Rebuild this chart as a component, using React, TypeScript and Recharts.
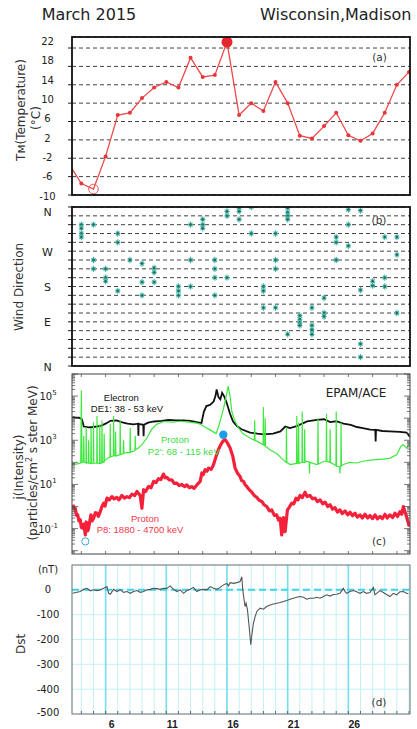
import React from "react";
import {
  ComposedChart,
  Line,
  Scatter,
  XAxis,
  YAxis,
  CartesianGrid,
  ReferenceLine,
  ReferenceDot,
} from "recharts";

// (a) daily temperature, Madison (°C)
const tempDays = [3, 4, 5, 6, 7, 8, 9, 10, 11, 12, 13, 14, 15, 16, 17, 18, 19, 20, 21, 22, 23, 24, 25, 26, 27, 28, 29, 30, 31];
const tempValues = [-3.3, -7.5, -8.7, -1.6, 7.4, 7.9, 11.1, 13.4, 14.6, 13.4, 19.9, 15.7, 16.1, 23.3, 7.4, 10.0, 8.3, 14.6, 10.0, 2.9, 2.3, 5.0, 7.9, 3.0, 1.8, 3.4, 7.9, 14.0, 16.8];
const tempTicks = [-10, -6, -2, 2, 6, 10, 14, 18, 22];

// (b) wind direction readings per day (degrees, 0/360 = N)
const windDays = [4, 5, 6, 7, 8, 9, 10, 12, 13, 14, 15, 16, 17, 18, 19, 20, 21, 22, 23, 24, 25, 26, 27, 28, 29, 30];
const windDegrees = [
  [320, 312, 300, 292],
  [320, 240, 220],
  [220, 200, 192],
  [300, 280, 170],
  [240],
  [232, 190, 160],
  [222, 212, 190],
  [180, 170, 160],
  [320, 240, 180],
  [332, 320, 312],
  [240, 220, 200, 160],
  [350, 340, 200],
  [358, 350, 332],
  [360, 300],
  [180, 170, 132],
  [300, 240, 220, 132],
  [358, 348, 340, 332, 72],
  [114, 106, 98, 92],
  [132, 92, 82, 72],
  [154, 120, 112],
  [292, 280, 240],
  [354, 320, 272],
  [352, 172, 50, 20],
  [192, 182],
  [292, 200, 180],
  [292, 252, 120],
];
const windTicks = [0, 20, 40, 60, 80, 100, 120, 140, 160, 180, 200, 220, 240, 260, 280, 300, 320, 340, 360];
const compassTicks = [360, 260, 180, 100, 0];
const compassNames = ["N", "W", "S", "E", "N"];

// (c) EPAM/ACE intensities as [day, log10 j]
const electronTrace = [
  [3.25, 4.05], [3.5, 4.03], [3.8, 4.02], [4.05, 3.95], [4.2, 3.62], [4.6, 3.58], [5.0, 3.6], [5.6, 3.65],
  [6.0, 3.75], [6.4, 3.88], [6.9, 3.9], [7.3, 3.82], [7.8, 3.75], [8.3, 3.72], [8.68, 3.75], [8.7, 3.2],
  [8.72, 3.74], [9.1, 3.7], [9.13, 3.18], [9.16, 3.7], [9.5, 3.8], [10.0, 3.85], [10.6, 3.88], [11.2, 3.92],
  [11.8, 3.9], [12.4, 3.9], [13.0, 3.88], [13.5, 3.82], [13.9, 3.78], [14.1, 4.3], [14.3, 4.55], [14.6, 4.6],
  [14.9, 4.75], [15.05, 5.0], [15.15, 5.3], [15.3, 4.95], [15.45, 4.85], [15.6, 5.15], [15.8, 4.95], [16.0, 4.65],
  [16.25, 4.2], [16.5, 3.85], [16.8, 3.65], [17.2, 3.5], [17.9, 3.35], [18.5, 3.3], [19.0, 3.27], [19.8, 3.3],
  [20.4, 3.4], [20.8, 3.62], [21.2, 3.55], [21.8, 3.65], [22.6, 3.85], [23.4, 3.92], [24.0, 3.95], [24.5, 3.82],
  [25.0, 3.86], [25.6, 3.75], [26.2, 3.7], [26.7, 3.6], [27.2, 3.55], [27.8, 3.48], [28.22, 3.47], [28.25, 2.95],
  [28.28, 3.47], [28.8, 3.42], [29.4, 3.4], [30.25, 3.38], [30.8, 3.35], [31.08, 3.15],
];

const p2Trace = [
  [3.25, 1.95], [3.6, 1.92], [3.95, 1.97], [4.0, 5.25], [4.05, 2.0], [4.17, 2.02], [4.2, 3.2], [4.23, 2.0],
  [4.38, 1.98], [4.4, 3.6], [4.43, 1.96], [4.58, 2.0], [4.6, 3.0], [4.63, 1.95], [4.78, 1.95], [4.8, 3.55],
  [4.83, 1.95], [4.98, 1.97], [5.0, 3.8], [5.03, 1.97], [5.27, 1.96], [5.29, 4.1], [5.32, 1.96], [5.5, 1.95],
  [5.52, 3.7], [5.55, 1.95], [5.68, 1.97], [5.7, 3.9], [5.73, 2.0], [5.86, 2.0], [5.88, 3.3], [5.91, 2.05],
  [6.2, 2.2], [6.36, 2.25], [6.38, 3.75], [6.41, 2.25], [6.64, 2.3], [6.66, 4.1], [6.69, 2.3], [6.8, 2.3],
  [6.82, 3.4], [6.85, 2.28], [7.18, 2.35], [7.2, 3.9], [7.23, 2.35], [7.45, 2.4], [7.48, 3.0], [7.51, 2.42],
  [8.0, 2.45], [8.03, 3.55], [8.06, 2.45], [8.3, 2.5], [8.42, 2.55], [8.44, 3.2], [8.47, 2.57], [8.7, 2.65],
  [9.0, 2.8], [9.4, 3.1], [9.8, 3.5], [10.2, 3.72], [10.8, 3.85], [11.5, 3.82], [12.2, 3.86], [12.9, 3.82],
  [13.5, 3.78], [13.9, 3.7], [14.1, 3.62], [14.6, 3.47], [15.1, 3.3], [15.3, 3.6], [15.5, 4.0], [15.7, 4.4],
  [15.9, 4.9], [16.1, 5.45], [16.25, 5.0], [16.4, 4.3], [16.6, 3.95], [16.9, 3.6], [17.3, 3.3], [17.9, 3.1],
  [18.25, 3.0], [18.28, 3.9], [18.31, 3.0], [18.5, 2.95], [18.98, 2.8], [19.0, 4.5], [19.03, 2.8], [19.13, 2.75],
  [19.15, 4.0], [19.18, 2.72], [19.6, 2.55], [20.1, 2.4], [20.65, 2.1], [20.88, 2.0], [20.9, 3.6], [20.93, 2.0],
  [21.2, 1.9], [21.73, 1.95], [21.75, 4.1], [21.78, 1.95], [21.88, 1.95], [21.9, 3.8], [21.93, 1.95], [22.18, 2.0],
  [22.2, 4.3], [22.23, 2.0], [22.38, 2.0], [22.4, 3.5], [22.43, 2.0], [22.6, 2.05], [22.78, 2.0], [22.8, 1.5],
  [22.83, 2.0], [23.4, 1.9], [23.48, 1.92], [23.5, 4.0], [23.53, 1.92], [24.0, 2.05], [24.18, 2.05], [24.2, 4.2],
  [24.23, 2.05], [24.48, 2.0], [24.5, 3.5], [24.53, 2.0], [24.98, 1.85], [25.0, 4.3], [25.03, 1.82], [25.28, 1.8],
  [25.3, 1.5], [25.33, 1.8], [25.38, 1.82], [25.4, 3.8], [25.43, 1.85], [25.6, 1.9], [26.1, 2.0], [26.7, 1.97],
  [27.2, 2.05], [27.8, 2.1], [28.3, 2.12], [28.9, 2.15], [29.4, 2.18], [30.0, 2.35], [30.3, 2.7], [30.5, 2.8],
  [30.8, 2.65], [31.08, 2.9],
];

const p8Trace = [
  [3.31, 0.08], [3.4, -0.1], [3.5, -0.08], [3.6, -0.4], [3.7, -0.38], [3.8, -0.65], [3.91, -0.6], [4.0, -0.95],
  [4.13, -0.98], [4.2, -0.8], [4.33, -1.29], [4.4, -0.7], [4.46, -0.76], [4.53, -1.1], [4.6, -0.98], [4.7, -0.65],
  [4.79, -0.38], [4.9, -0.65], [5.01, -0.53], [5.15, -0.28], [5.29, -0.3], [5.4, -0.45], [5.56, -0.23], [5.7, 0.0],
  [5.84, 0.15], [5.95, 0.02], [6.11, 0.38], [6.3, 0.3], [6.52, 0.45], [6.7, 0.35], [6.93, 0.41], [7.1, 0.3],
  [7.34, 0.5], [7.55, 0.38], [7.76, 0.45], [7.95, 0.4], [8.17, 0.56], [8.4, 0.5], [8.58, 0.68], [8.85, 0.5],
  [8.99, -0.08], [9.13, 0.76], [9.3, 0.68], [9.54, 0.91], [9.75, 0.85], [9.95, 1.14], [10.15, 1.08], [10.36, 1.26],
  [10.55, 1.22], [10.77, 1.47], [10.9, 1.3], [11.05, 1.32], [11.25, 1.2], [11.46, 1.21], [11.65, 1.05], [11.87, 1.06],
  [12.05, 0.95], [12.28, 1.0], [12.5, 0.9], [12.69, 0.98], [12.9, 0.85], [13.1, 0.9], [13.3, 0.82], [13.52, 0.98],
  [13.79, 1.14], [13.93, 1.52], [14.05, 1.45], [14.2, 1.67], [14.35, 1.6], [14.48, 1.74], [14.7, 1.68], [14.89, 1.89],
  [15.1, 2.27], [15.3, 2.58], [15.49, 2.8], [15.66, 2.95], [15.85, 3.03], [16.04, 2.88], [16.26, 2.65], [16.48, 2.27],
  [16.67, 1.74], [16.86, 1.52], [17.08, 1.36], [17.2, 1.18], [17.36, 1.14], [17.5, 0.98], [17.63, 0.91], [17.85, 0.75],
  [18.04, 0.65], [18.25, 0.5], [18.46, 0.41], [18.65, 0.28], [18.87, 0.23], [19.05, 0.08], [19.28, 0.0], [19.5, -0.2],
  [19.69, -0.15], [19.9, -0.4], [20.1, -0.38], [20.25, -0.62], [20.38, -0.53], [20.51, -1.29], [20.65, -0.5], [20.79, -1.14],
  [20.98, -0.15], [21.15, -0.02], [21.34, 0.15], [21.5, 0.12], [21.69, 0.38], [21.85, 0.3], [22.02, 0.5], [22.2, 0.4],
  [22.43, 0.65], [22.6, 0.45], [22.84, 0.5], [23.05, 0.35], [23.26, 0.38], [23.45, 0.22], [23.67, 0.3], [23.9, 0.12],
  [24.08, 0.2], [24.3, 0.0], [24.49, 0.08], [24.7, -0.12], [24.9, -0.05], [25.1, -0.25], [25.31, -0.15], [25.5, -0.32],
  [25.73, -0.2], [25.95, -0.38], [26.14, -0.26], [26.35, -0.42], [26.55, -0.3], [26.75, -0.48], [26.96, -0.38], [27.15, -0.52],
  [27.37, -0.35], [27.6, -0.52], [27.78, -0.41], [28.0, -0.55], [28.2, -0.38], [28.4, -0.56], [28.61, -0.45], [28.8, -0.55],
  [29.02, -0.35], [29.2, -0.52], [29.43, -0.38], [29.65, -0.5], [29.84, -0.3], [30.05, -0.45], [30.25, -0.23], [30.4, -0.35],
  [30.53, 0.0], [30.75, -0.38], [31.02, -0.91],
];

// highlighted points on the proton curves
const markDays = [15.7, 4.33];
const markLogs = [3.25, -1.58];
const fluxLabelExps = [-1, 1, 3, 5];

// (d) Dst index (nT)
const dstDays = [3.28, 3.64, 3.91, 4.19, 4.46, 4.74, 5.01, 5.29, 5.56, 5.84, 6.11, 6.25, 6.38, 6.66, 6.93, 7.21, 7.48, 7.76, 8.03, 8.3, 8.58, 8.85, 9.13, 9.4, 9.68, 9.95, 10.22, 10.5, 10.77, 11.05, 11.32, 11.6, 11.87, 12.15, 12.42, 12.69, 12.97, 13.24, 13.52, 13.79, 14.07, 14.34, 14.61, 14.89, 15.16, 15.44, 15.71, 15.99, 16.12, 16.26, 16.54, 16.81, 17.08, 17.22, 17.3, 17.41, 17.49, 17.57, 17.69, 17.77, 17.85, 17.96, 18.07, 18.18, 18.32, 18.46, 18.59, 18.73, 19.0, 19.28, 19.55, 19.83, 20.1, 20.38, 20.65, 20.92, 21.2, 21.47, 21.75, 22.02, 22.3, 22.57, 22.84, 23.12, 23.39, 23.67, 23.94, 24.22, 24.49, 24.77, 25.04, 25.31, 25.59, 25.73, 25.86, 26.14, 26.41, 26.69, 26.96, 27.23, 27.51, 27.78, 28.06, 28.19, 28.33, 28.61, 28.88, 29.15, 29.43, 29.7, 29.98, 30.25, 30.53, 30.8, 30.94];
const dstValues = [-14, -10, -7, 2, 6, -4, 0, -3, 0, 6, 13, -14, -18, 2, -7, 0, -10, -7, -14, -7, -3, -10, -7, 0, 2, 6, 5, 2, 6, 6, 16, 2, -7, 0, -14, -3, 2, 10, -7, 0, 2, 0, 13, 6, 2, 10, 20, 26, 16, 29, 26, 29, 33, 53, 0, -40, -67, -54, -81, -121, -161, -221, -174, -134, -108, -87, -81, -74, -78, -67, -61, -57, -54, -51, -47, -43, -38, -34, -30, -27, -30, -38, -34, -34, -30, -34, -27, -20, -25, -19, -18, -14, 6, -7, -14, -7, -3, -8, -14, -7, -14, -11, 10, -20, -14, -3, -11, -19, -27, -14, -20, -8, -7, -14, -16];
const dstTicks = [-500, -400, -300, -200, -100, 0, 100];

const dayLabels = [6, 11, 16, 21, 26];
const allDays = [4, 5, 6, 7, 8, 9, 10, 11, 12, 13, 14, 15, 16, 17, 18, 19, 20, 21, 22, 23, 24, 25, 26, 27, 28, 29, 30, 31];
const evenDays = [4, 6, 8, 10, 12, 14, 16, 18, 20, 22, 24, 26, 28, 30];

// ---- layout ----
const W = 417;
const LEFT = 72;
const RIGHT = 410;
const DAYS: [number, number] = [3.23, 31.08];
const FLUX_MIN = Math.pow(10, -2.15);
const SANS = "'DejaVu Sans', Verdana, sans-serif";
const ARIAL = "'Liberation Sans', Arial, sans-serif";

const tempRows = tempDays.map((day, i) => ({ day, t: tempValues[i] }));
const tMax = Math.max(...tempValues);
const tMin = Math.min(...tempValues);
const windRows = windDays.flatMap((day, i) => windDegrees[i].map((deg) => ({ day, deg })));
const logRows = (trace: number[][]) => trace.map(([day, lg]) => ({ day, v: Math.pow(10, lg) }));
const electronRows = logRows(electronTrace);
const p2Rows = logRows(p2Trace);
const p8Rows = logRows(p8Trace);
const dstRows = dstDays.map((day, i) => ({ day, dst: dstValues[i] }));

// log ticks: decades plus 2..9 minors
const fluxTicks: number[] = [];
for (let d = -3; d <= 6; d++) {
  for (let m = 1; m <= 9; m++) {
    const v = m * Math.pow(10, d);
    if (v >= FLUX_MIN && v <= 1e6 * 1.0001) fluxTicks.push(v);
  }
}

const TempDot = (p: any) => {
  const { cx, cy, payload } = p;
  if (cx == null || cy == null) return null;
  if (payload.t === tMax) return <circle cx={cx} cy={cy} r={5.5} fill="#e5262c" />;
  if (payload.t === tMin) return <circle cx={cx} cy={cy} r={4.8} fill="none" stroke="#f05a5c" strokeWidth={1} />;
  return <circle cx={cx} cy={cy} r={2} fill="#e8353a" />;
};

const TempTick = ({ x, y, payload }: any) => {
  const v = payload.value;
  return (
    <g>
      <line x1={x - 4} x2={x} y1={y} y2={y} stroke="#222" />
      <text x={x - 24.5} y={y - 6.6 + 0.245 * (22 - v)} textAnchor="middle" dominantBaseline="central" fontSize={10} fill="#222" fontFamily={SANS}>
        {v}
      </text>
    </g>
  );
};

const WindTick = ({ x, y, payload }: any) => {
  const v = payload.value;
  const idx = compassTicks.indexOf(v);
  return (
    <g>
      <line x1={x - 4} x2={x} y1={y} y2={y} stroke="#222" />
      {idx >= 0 && (
        <text x={x - 24.5} y={y + (v === 360 ? 5 : 1)} textAnchor="middle" dominantBaseline="central" fontSize={11} fill="#222" fontFamily={SANS}>
          {compassNames[idx]}
        </text>
      )}
    </g>
  );
};

const WindMark = (p: any) => {
  const { cx, cy } = p;
  if (cx == null || cy == null) return null;
  return (
    <g>
      <path
        d={`M${cx - 2.6},${cy}L${cx + 2.6},${cy}M${cx},${cy - 3.2}L${cx},${cy + 3.2}M${cx - 2},${cy - 2}L${cx + 2},${cy + 2}M${cx - 2},${cy + 2}L${cx + 2},${cy - 2}`}
        stroke="#4bb5a5"
        strokeWidth={1.1}
      />
      <circle cx={cx} cy={cy} r={1.2} fill="#1f6b62" />
    </g>
  );
};

const isDecade = (v: number) => Math.abs(Math.log10(v) - Math.round(Math.log10(v))) < 1e-6;

const FluxTickLeft = ({ x, y, payload }: any) => {
  const v = payload.value;
  const major = isDecade(v);
  const e = Math.round(Math.log10(v));
  return (
    <g>
      <line x1={x} x2={x + (major ? 6 : 3)} y1={y} y2={y} stroke="#555" strokeWidth={0.8} />
      {major && fluxLabelExps.includes(e) && (
        <text x={x - 24} y={y + 4} textAnchor="middle" fontSize={10} fill="#222" fontFamily={SANS}>
          10<tspan dy={-5} fontSize={7}>{e}</tspan>
        </text>
      )}
    </g>
  );
};

const FluxTickRight = ({ x, y, payload }: any) => (
  <line x1={x} x2={x - (isDecade(payload.value) ? 6 : 3)} y1={y} y2={y} stroke="#555" strokeWidth={0.8} />
);

const TickUp = ({ x, y }: any) => <line x1={x} x2={x} y1={y} y2={y - 3} stroke="#555" strokeWidth={0.8} />;
const TickDown = ({ x, y }: any) => <line x1={x} x2={x} y1={y} y2={y + 3} stroke="#555" strokeWidth={0.8} />;

const DstTick = ({ x, y, payload }: any) => {
  const v = payload.value;
  return (
    <text x={x - 24} y={y + (v === 100 ? 4 : v === -500 ? -2 : 0)} textAnchor="middle" dominantBaseline="central" fontSize={10} fill="#222" fontFamily={SANS}>
      {v === 100 ? "(nT)" : v}
    </text>
  );
};

const DstDayTick = ({ x, y, payload }: any) => (
  <g>
    <line x1={x} x2={x} y1={y} y2={y - 3} stroke="#444" strokeWidth={0.8} />
    {dayLabels.includes(payload.value) && (
      <text x={x + 6} y={y + 13.5} textAnchor="middle" fontSize={10.5} fontWeight={700} fill="#222" fontFamily={ARIAL}>
        {payload.value}
      </text>
    )}
  </g>
);

const Panel = ({ top, height, children }: any) => (
  <div style={{ position: "absolute", left: 0, top, width: W, height }}>{children}</div>
);

export default function App() {
  return (
    <div style={{ position: "absolute", left: 0, top: 0, width: W, height: 729, background: "#fff", overflow: "hidden" }}>
      {/* (a) temperature */}
      <Panel top={30} height={172}>
        <ComposedChart width={W} height={172} data={tempRows} margin={{ top: 7, right: 7, bottom: 7, left: 0 }}>
          <CartesianGrid vertical={false} stroke="#444" strokeDasharray="4 3" />
          <XAxis dataKey="day" type="number" domain={DAYS} allowDataOverflow hide />
          <YAxis type="number" domain={[-10, 24.4]} allowDataOverflow ticks={tempTicks} interval={0} width={LEFT} tickSize={0} tickMargin={0} tickLine={false} axisLine={false} tick={TempTick} />
          <Line dataKey="t" stroke="#f04a4c" strokeWidth={1.3} dot={TempDot} isAnimationActive={false} />
        </ComposedChart>
      </Panel>

      {/* (b) wind direction */}
      <Panel top={200} height={173}>
        <ComposedChart width={W} height={173} margin={{ top: 7, right: 7, bottom: 7, left: 0 }}>
          <CartesianGrid vertical={false} stroke="#444" strokeDasharray="4 3" />
          <XAxis dataKey="day" type="number" domain={DAYS} allowDataOverflow hide />
          <YAxis dataKey="deg" type="number" domain={[0, 360]} allowDataOverflow ticks={windTicks} interval={0} width={LEFT} tickSize={0} tickMargin={0} tickLine={false} axisLine={false} tick={WindTick} />
          <Scatter data={windRows} shape={WindMark} isAnimationActive={false} />
        </ComposedChart>
      </Panel>

      {/* (c) EPAM/ACE particle fluxes */}
      <Panel top={367} height={194}>
        <ComposedChart width={W} height={194} margin={{ top: 6, right: 0, bottom: 6, left: 0 }}>
          <XAxis xAxisId="b" dataKey="day" type="number" domain={DAYS} allowDataOverflow ticks={evenDays} interval={0} height={1} tickSize={0} tickMargin={0} tickLine={false} axisLine={false} tick={TickUp} />
          <XAxis xAxisId="t" orientation="top" dataKey="day" type="number" domain={DAYS} allowDataOverflow ticks={evenDays} interval={0} height={1} tickSize={0} tickMargin={0} tickLine={false} axisLine={false} tick={TickDown} />
          <YAxis yAxisId="l" dataKey="v" type="number" scale="log" domain={[FLUX_MIN, 1e6]} allowDataOverflow ticks={fluxTicks} interval={0} width={LEFT} tickSize={0} tickMargin={0} tickLine={false} axisLine={false} tick={FluxTickLeft} />
          <YAxis yAxisId="r" orientation="right" dataKey="v" type="number" scale="log" domain={[FLUX_MIN, 1e6]} allowDataOverflow ticks={fluxTicks} interval={0} width={W - RIGHT} tickSize={0} tickMargin={0} tickLine={false} axisLine={false} tick={FluxTickRight} />
          <Line xAxisId="b" yAxisId="l" data={electronRows} dataKey="v" stroke="#111" strokeWidth={1.8} dot={false} isAnimationActive={false} />
          <Line xAxisId="b" yAxisId="l" data={p2Rows} dataKey="v" stroke="#3fe83f" strokeWidth={1.2} dot={false} isAnimationActive={false} />
          <Line xAxisId="b" yAxisId="l" data={p8Rows} dataKey="v" stroke="#f5213a" strokeWidth={3.2} strokeLinejoin="round" dot={false} isAnimationActive={false} />
          <ReferenceDot xAxisId="b" yAxisId="l" x={markDays[0]} y={Math.pow(10, markLogs[0])} r={4.2} fill="#1e9de6" stroke="none" />
          <ReferenceDot xAxisId="b" yAxisId="l" x={markDays[1]} y={Math.pow(10, markLogs[1])} r={3.6} fill="none" stroke="#3aa6e6" strokeWidth={1} />
        </ComposedChart>
      </Panel>

      {/* (d) Dst */}
      <Panel top={558} height={171}>
        <ComposedChart width={W} height={171} data={dstRows} margin={{ top: 7, right: 7, bottom: 14, left: 0 }}>
          <CartesianGrid stroke="#c4f1f6" strokeWidth={1} />
          <XAxis dataKey="day" type="number" domain={DAYS} allowDataOverflow ticks={allDays} interval={0} height={1} tickSize={0} tickMargin={0} tickLine={false} axisLine={false} tick={DstDayTick} />
          <YAxis type="number" domain={[-500, 100]} allowDataOverflow ticks={dstTicks} interval={0} width={LEFT} tickSize={0} tickMargin={0} tickLine={false} axisLine={false} tick={DstTick} />
          {dayLabels.map((d) => (
            <ReferenceLine key={d} x={d} stroke="#74dfec" strokeWidth={1.6} />
          ))}
          <ReferenceLine y={0} stroke="#3fd4e8" strokeWidth={2} strokeDasharray="7 4" />
          <Line dataKey="dst" stroke="#555" strokeWidth={1.1} dot={false} isAnimationActive={false} />
        </ComposedChart>
      </Panel>

      {/* titles, frames and annotations */}
      <svg width={W} height={729} style={{ position: "absolute", left: 0, top: 0, pointerEvents: "none" }}>
        <text x={41.7} y={20} fontSize={16} fill="#222" fontFamily={SANS}>March 2015</text>
        <text x={260} y={20} fontSize={16} fill="#222" fontFamily={SANS}>Wisconsin,Madison</text>

        <rect x={LEFT} y={37} width={RIGHT - LEFT} height={158} fill="none" stroke="#111" strokeWidth={1.8} />
        <rect x={LEFT} y={207} width={RIGHT - LEFT} height={159} fill="none" stroke="#111" strokeWidth={1.8} />
        <rect x={LEFT} y={374} width={RIGHT - LEFT} height={180} fill="none" stroke="#444" strokeWidth={1} />
        <rect x={LEFT} y={565} width={RIGHT - LEFT} height={149} fill="none" stroke="#777" strokeWidth={1} />

        <g fontFamily={SANS} fontSize={12} fill="#333" textAnchor="middle" dominantBaseline="central">
          <text transform="translate(21,110) rotate(-90)">Tм(Temperature)</text>
          <text transform="translate(36,118) rotate(-90)">(°C)</text>
          <text transform="translate(19,287) rotate(-90)">Wind Direction</text>
          <text transform="translate(19,467) rotate(-90)">j(Intensity)</text>
          <text transform="translate(33,463) rotate(-90)">
            (particles/cm<tspan dy={-4} fontSize={8}>2</tspan>
            <tspan dy={4}> s ster MeV)</tspan>
          </text>
          <text transform="translate(21,644) rotate(-90)">Dst</text>
        </g>

        <g fontFamily={SANS} fontSize={10.5} fill="#333" textAnchor="middle">
          <text x={379.5} y={61}>(a)</text>
          <text x={379} y={224}>(b)</text>
          <text x={379} y={545}>(c)</text>
          <text x={379} y={706}>(d)</text>
        </g>
        <text x={356} y={397} textAnchor="middle" fontSize={12} fill="#222" fontFamily={SANS}>EPAM/ACE</text>

        <g fontFamily={ARIAL} fontSize={9.5} textAnchor="middle">
          <text x={121.3} y={400.7} fill="#111">Electron</text>
          <text x={127} y={411.7} fill="#111">DE1: 38 - 53 keV</text>
          <text x={175} y={443.3} fill="#3fdc3f">Proton</text>
          <text x={183.8} y={455} fill="#3fdc3f">P2': 68 - 115 keV</text>
          <text x={145} y={521.7} fill="#f5364a">Proton</text>
          <text x={140} y={533.3} fill="#f5364a">P8: 1880 - 4700 keV</text>
        </g>
      </svg>
    </div>
  );
}
